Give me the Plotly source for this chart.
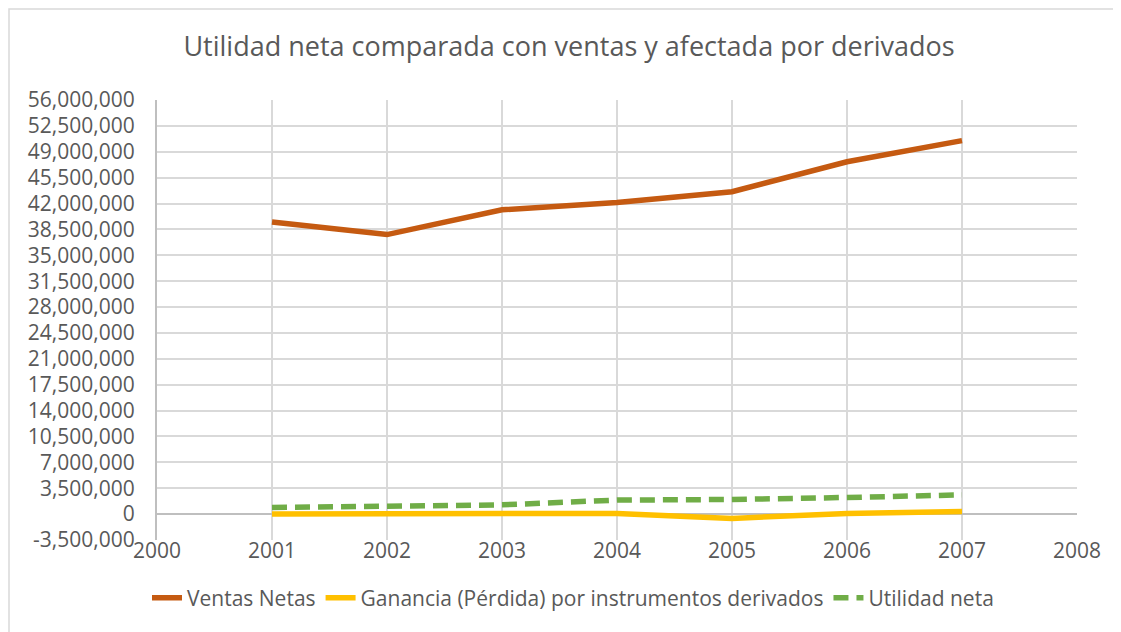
import plotly.graph_objects as go

years = [2001, 2002, 2003, 2004, 2005, 2006, 2007]
ventas_netas = [39500000, 37800000, 41150000, 42150000, 43600000, 47650000, 50500000]
ganancia_derivados = [0, 0, 20000, 100000, -580000, 100000, 350000]
utilidad_neta = [900000, 1000000, 1250000, 1900000, 1980000, 2250000, 2600000]

y_ticks = list(range(-3500000, 56000001, 3500000))
y_tick_labels = [f"{v:,}" for v in y_ticks]
x_ticks = list(range(2000, 2009))

font_family = "'Open Sans', sans-serif"
grey = "#595959"

fig = go.Figure()
fig.add_trace(go.Scatter(x=years, y=ventas_netas, mode="lines", name="Ventas Netas",
                         line=dict(color="#C55A11", width=5.5)))
fig.add_trace(go.Scatter(x=years, y=ganancia_derivados, mode="lines",
                         name="Ganancia (Pérdida) por instrumentos derivados",
                         line=dict(color="#FFC000", width=5.5)))
fig.add_trace(go.Scatter(x=years, y=utilidad_neta, mode="lines", name="Utilidad neta",
                         line=dict(color="#70AD47", width=5.5, dash="15px,8px")))

# page body has an 8px offset; compensate so the screen layout matches
OFF = 8
W, H = 1121, 632
L, R, T, B = 157 - OFF, 44 + OFF, 100 - OFF, 92 + OFF
pw, ph = W - L - R, H - T - B

fig.update_layout(
    width=W, height=H,
    margin=dict(l=L, r=R, t=T, b=B),
    paper_bgcolor="white", plot_bgcolor="white",
    font=dict(family=font_family, color=grey, size=21),
    title=dict(text="Utilidad neta comparada con ventas y afectada por derivados",
               x=(569 - OFF) / W, xanchor="center", y=1 - (47 - OFF) / H, yanchor="middle",
               font=dict(size=27, color=grey, family=font_family)),
    showlegend=True,
    legend=dict(orientation="h", x=(573 - OFF - L) / pw, xanchor="center",
                y=-(598 - OFF - (H - B)) / ph,
                yanchor="middle", font=dict(size=21, color=grey), traceorder="normal"),
    xaxis=dict(range=[2000, 2008], tickvals=x_ticks, ticktext=[str(v) for v in x_ticks],
               showgrid=True, gridcolor="#d9d9d9", gridwidth=1.5, zeroline=False,
               showline=False, ticks="", automargin=False, ticklabelstandoff=-4,
               tickfont=dict(size=21, color=grey)),
    yaxis=dict(range=[-3500000, 56000000], tickvals=y_ticks, ticktext=y_tick_labels,
               showgrid=True, gridcolor="#d9d9d9", gridwidth=1.5,
               zeroline=True, zerolinecolor="#bfbfbf", zerolinewidth=2,
               showline=True, linecolor="#bfbfbf", linewidth=2, mirror=False,
               ticks="", automargin=False, ticklabelstandoff=16,
               tickfont=dict(size=21, color=grey)),
    shapes=[dict(type="rect", xref="paper", yref="paper",
                 x0=(1 - L) / pw, x1=(1117 - OFF - L) / pw,
                 y0=-(H - 1 - (H - B)) / ph, y1=(H - B - 1) / ph,
                 line=dict(color="#d9d9d9", width=1.5), fillcolor="rgba(0,0,0,0)",
                 layer="below")],
)

fig.write_html("out.html")
